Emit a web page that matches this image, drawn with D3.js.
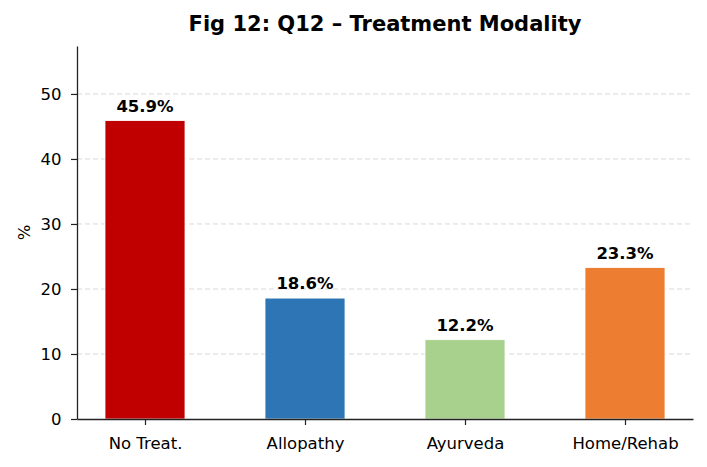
<!DOCTYPE html>
<html>
<head>
<meta charset="utf-8">
<script src="https://cdn.jsdelivr.net/npm/d3@7"></script>
<style>
  body { margin: 0; background: #fff; }
  svg { display: block; font-family: 'DejaVu Sans', sans-serif; }
</style>
</head>
<body>
<div id="chart"></div>
<script>
const categories = ['No Treat.', 'Allopathy', 'Ayurveda', 'Home/Rehab']
const values = [45.9, 18.6, 12.2, 23.3]
const colors = ['#C00000', '#2E75B6', '#A9D18E', '#ED7D31']
const yTicks = [0, 10, 20, 30, 40, 50]

const width = 707, height = 467
const margin = { top: 46, right: 14, bottom: 48, left: 77 }

const svg = d3.select('#chart')
  .append('svg')
  .attr('width', width)
  .attr('height', height)

const x = d3.scaleLinear()
  .domain([-0.425, categories.length - 1 + 0.425])
  .range([margin.left, width - margin.right])

const y = d3.scaleLinear()
  .domain([0, d3.max(values) * 1.25])
  .range([height - margin.bottom, margin.top])

// grid
svg.append('g')
  .selectAll('line')
  .data(yTicks.filter(d => d > 0))
  .join('line')
  .attr('x1', margin.left)
  .attr('x2', width - margin.right)
  .attr('y1', d => y(d))
  .attr('y2', d => y(d))
  .attr('stroke', '#d9d9d9')
  .attr('stroke-width', 1)
  .attr('stroke-dasharray', '5,3')

// bars
svg.append('g')
  .selectAll('rect')
  .data(values)
  .join('rect')
  .attr('x', (d, i) => x(i - 0.25))
  .attr('width', x(0.25) - x(-0.25))
  .attr('y', d => y(d))
  .attr('height', d => y(0) - y(d))
  .attr('fill', (d, i) => colors[i])
  .attr('stroke', '#fff')
  .attr('stroke-width', 0.8)

// value labels
svg.append('g')
  .selectAll('text')
  .data(values)
  .join('text')
  .attr('x', (d, i) => x(i))
  .attr('y', d => y(d) - 9)
  .attr('text-anchor', 'middle')
  .attr('font-size', 16.5)
  .attr('font-weight', 'bold')
  .text(d => d.toFixed(1) + '%')

// axes
const xAxis = svg.append('g')
  .attr('transform', `translate(0,${y(0)})`)
  .call(d3.axisBottom(x).tickValues(d3.range(categories.length)).tickFormat(i => categories[i]).tickSize(6).tickPadding(12).tickSizeOuter(0))
xAxis.select('.domain').attr('stroke', '#222').attr('stroke-width', 1.3)
xAxis.selectAll('.tick line').attr('stroke', '#222').attr('stroke-width', 1.2)
xAxis.selectAll('text').attr('font-size', 16.5).attr('fill', '#000').attr('font-family', 'DejaVu Sans')

const yAxis = svg.append('g')
  .attr('transform', `translate(${margin.left},0)`)
  .call(d3.axisLeft(y).tickValues(yTicks).tickSize(6).tickPadding(9.5).tickSizeOuter(0))
yAxis.select('.domain').attr('stroke', '#222').attr('stroke-width', 1.3)
yAxis.selectAll('.tick line').attr('stroke', '#222').attr('stroke-width', 1.2)
yAxis.selectAll('text').attr('font-size', 16.5).attr('fill', '#000').attr('font-family', 'DejaVu Sans')

// y label
svg.append('text')
  .attr('transform', `translate(30,${(margin.top + height - margin.bottom) / 2}) rotate(-90)`)
  .attr('text-anchor', 'middle')
  .attr('font-size', 16.5)
  .text('%')

// title
svg.append('text')
  .attr('x', (margin.left + width - margin.right) / 2)
  .attr('y', 31)
  .attr('text-anchor', 'middle')
  .attr('font-size', 21)
  .attr('font-weight', 'bold')
  .text('Fig 12: Q12 – Treatment Modality')
</script>
</body>
</html>
